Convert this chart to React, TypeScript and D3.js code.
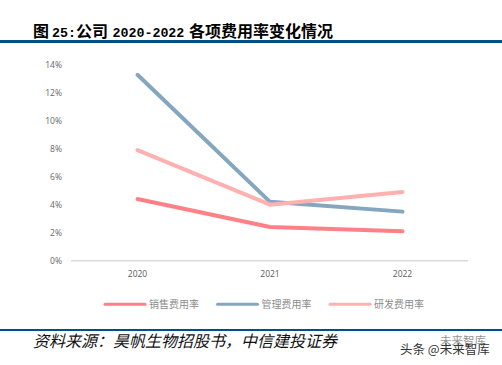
import React from "react";
import * as d3 from "d3";

const years = ["2020", "2021", "2022"];
const sales = [4.4, 2.4, 2.1];
const admin = [13.3, 4.2, 3.5];
const rnd = [7.9, 4.0, 4.9];
const yTicks = [0, 2, 4, 6, 8, 10, 12, 14];
const seriesNames = ["销售费用率", "管理费用率", "研发费用率"];
const seriesColors = ["#ff8087", "#84a6be", "#ffb0b0"];

const x = d3.scalePoint<string>().domain(years).range([137.5, 402.5]);
const y = d3.scaleLinear().domain([0, 14]).range([260.5, 65]);
const line = d3.line<number>().x((_, i) => x(years[i]) as number).y((d) => y(d));
const legendX = [105, 217.5, 330];
const sans = "'Open Sans', 'Liberation Sans', sans-serif";
const cjk = "'Noto Sans CJK SC', sans-serif";
const mono = "'Liberation Mono', monospace";

export default function App() {
  return (
    <svg width={502} height={365} viewBox="0 0 502 365" style={{ position: "absolute", left: 0, top: 0, background: "#fff" }}>
      <text y={37} fontFamily={cjk} fontWeight={700} fontSize={16} fill="#000">
        <tspan x={33}>图</tspan>
        <tspan x={52} fontFamily={mono} fontSize={13.3}>25:</tspan>
        <tspan x={76}>公司</tspan>
        <tspan x={112.5} fontFamily={mono} fontSize={13.3}>2020-2022</tspan>
        <tspan x={189}>各项费用率变化情况</tspan>
      </text>
      <rect x={0} y={40} width={502} height={3} fill="#004e82" />
      {yTicks.map((t) => (
        <text key={t} x={62} y={y(t) + 3} textAnchor="end" fontFamily={sans} fontSize={8.5} fill="#666">{t}%</text>
      ))}
      <line x1={71} x2={468} y1={260.7} y2={260.7} stroke="#d9d9d9" strokeWidth={1.5} />
      {years.map((yr) => (
        <text key={yr} x={x(yr)} y={277} textAnchor="middle" fontFamily={sans} fontSize={8.5} fill="#595959">{yr}</text>
      ))}
      {[sales, admin, rnd].map((s, i) => (
        <path key={i} d={line(s) as string} fill="none" stroke={seriesColors[i]} strokeWidth={4} strokeLinecap="round" strokeLinejoin="round" />
      ))}
      {seriesNames.map((n, i) => (
        <g key={n}>
          <line x1={legendX[i]} x2={legendX[i] + 40} y1={304.3} y2={304.3} stroke={seriesColors[i]} strokeWidth={3} strokeLinecap="round" />
          <text x={legendX[i] + 44} y={308} fontFamily={cjk} fontSize={10} fill="#8c8c8c">{n}</text>
        </g>
      ))}
      <rect x={0} y={329} width={502} height={2} fill="#004e82" />
      <text x={33} y={347} fontFamily={cjk} fontSize={16} fontStyle="italic" fill="#111">资料来源：昊帆生物招股书，中信建投证券</text>
      <text x={440} y={345} fontFamily={cjk} fontSize={11.5} fill="#666" opacity={0.7}>未来智库</text>
      <text x={400} y={354} fontFamily={cjk} fontSize={12.5} fill="#333">头条 @未来智库</text>
    </svg>
  );
}
